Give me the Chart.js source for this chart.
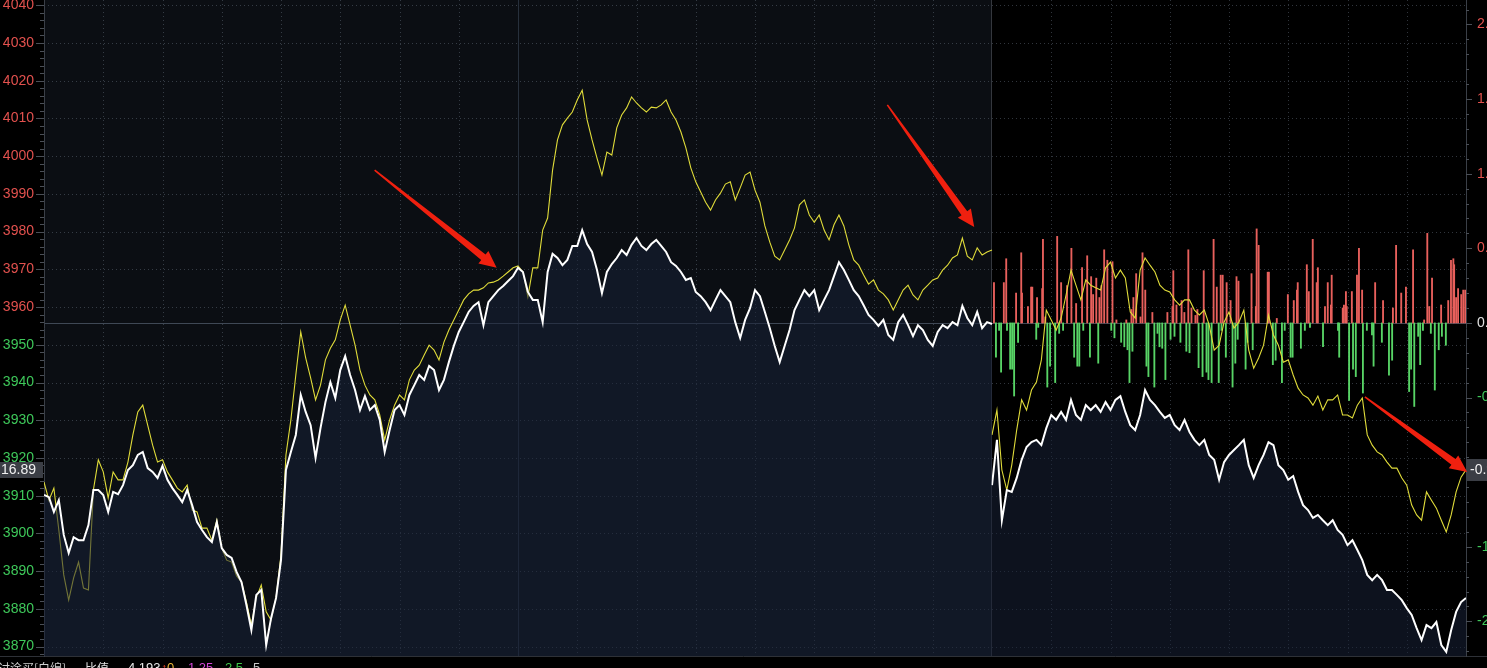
<!DOCTYPE html>
<html>
<head>
<meta charset="utf-8">
<script src="https://cdn.jsdelivr.net/npm/chart.js@4.4.1/dist/chart.umd.min.js"></script>
<style>
html, body { margin: 0; padding: 0; background: #000; overflow: hidden; }
#wrap { position: relative; width: 1487px; height: 668px; overflow: hidden; }
#chart { position: absolute; left: 0; top: 0; }
.leg { position: absolute; top: 661px; line-height: 13px; font-size: 13px; font-family: "Liberation Sans", "Noto Sans CJK SC", sans-serif; white-space: pre; }
</style>
</head>
<body>
<div id="wrap">
  <canvas id="chart" width="1487" height="668"></canvas>
  <span class="leg" style="left:-2px;color:#cfcfcf;font-family:'Noto Sans CJK SC';font-size:12px">讨涂买[白编]</span>
  <span class="leg" style="left:85px;color:#e0e0e0;font-family:'Noto Sans CJK SC';font-size:12px">比值</span>
  <span class="leg" style="left:128px;color:#e8e8e8">4.193</span>
  <span class="leg" style="left:161px;color:#ff4a2a">↑</span>
  <span class="leg" style="left:167px;color:#e9b53a">0</span>
  <span class="leg" style="left:188px;color:#d247d6">1.25</span>
  <span class="leg" style="left:225px;color:#3fc84a">2.5</span>
  <span class="leg" style="left:253px;color:#c8c8c8">5</span>
</div>
<script>
// previous close and axis range
var PREV_CLOSE = 3955.8;
var Y_MIN = 3867.5, Y_MAX = 4041.4;
var STEP = 1.25; // minutes between samples

var priceTicks = [3870, 3880, 3890, 3900, 3910, 3920, 3930, 3940, 3950, 3960, 3970, 3980, 3990, 4000, 4010, 4020, 4030, 4040];
var pctTicks = [-2, -1.5, -1, -0.5, 0, 0.5, 1, 1.5, 2];

// day 1 (full session, 240 min)
var prevWhite = [
3910.2, 3909.6, 3905.7, 3908.8, 3899.6, 3894.8, 3899.0, 3898.2, 3898.2, 3902.2,
3911.5, 3911.5, 3910.2, 3905.7, 3911.0, 3910.4, 3912.8, 3916.8, 3918.1, 3920.8,
3921.6, 3917.3, 3916.3, 3914.7, 3917.9, 3914.2, 3912.0, 3910.2, 3908.3, 3911.5,
3907.5, 3903.0, 3900.9, 3899.0, 3897.7, 3903.0, 3896.1, 3894.3, 3893.5, 3889.8,
3887.1, 3881.0, 3874.4, 3883.7, 3885.0, 3870.4, 3877.6, 3882.9, 3892.9, 3916.8,
3921.6, 3926.1, 3936.7, 3932.2, 3928.7, 3920.0, 3927.9, 3934.8, 3940.1, 3935.9,
3943.3, 3947.0, 3942.0, 3938.0, 3932.7, 3936.4, 3932.7, 3934.0, 3930.1, 3921.6,
3927.4, 3932.7, 3934.0, 3931.4, 3936.7, 3939.3, 3942.0, 3940.7, 3944.4, 3943.3,
3938.0, 3940.7, 3945.4, 3949.7, 3953.4, 3956.0, 3958.7, 3960.3, 3961.3, 3955.2,
3961.3, 3962.9, 3964.5, 3965.6, 3966.9, 3968.2, 3970.4, 3969.3, 3964.0, 3961.9,
3961.9, 3956.0, 3969.3, 3974.1, 3973.0, 3971.1, 3972.5, 3976.2, 3976.2, 3980.4,
3976.7, 3974.6, 3969.8, 3963.7, 3969.3, 3971.4, 3973.0, 3975.1, 3973.8, 3976.5,
3978.3, 3976.2, 3975.1, 3976.7, 3977.8, 3976.2, 3974.6, 3971.9, 3970.9, 3969.3,
3967.2, 3967.7, 3964.0, 3962.9, 3961.3, 3959.2, 3961.9, 3964.5, 3962.9, 3961.3,
3956.0, 3951.8, 3956.6, 3959.7, 3964.5, 3962.9, 3958.7, 3954.4, 3949.7, 3945.4,
3949.7, 3953.9, 3959.2, 3961.9, 3964.5, 3962.9, 3964.5, 3959.2, 3961.9, 3964.5,
3968.2, 3971.9, 3969.8, 3967.2, 3964.5, 3962.9, 3960.5, 3957.9, 3956.6, 3955.0,
3956.6, 3952.6, 3951.3, 3956.0, 3957.9, 3955.2, 3952.3, 3955.2, 3953.9, 3951.3,
3949.7, 3953.4, 3955.2, 3954.4, 3956.0, 3955.2, 3960.3, 3957.1, 3955.2, 3958.7,
3954.4, 3956.0, 3955.5
];
var prevYellow = [
3913.6, 3908.8, 3912.0, 3900.9, 3889.0, 3882.3, 3888.2, 3892.4, 3885.5, 3885.0,
3911.5, 3919.5, 3916.3, 3909.4, 3916.3, 3914.2, 3914.2, 3918.9, 3926.1, 3932.2,
3934.0, 3928.7, 3923.4, 3918.9, 3919.5, 3916.3, 3914.2, 3912.0, 3911.0, 3912.8,
3906.2, 3905.7, 3901.4, 3901.4, 3898.2, 3903.5, 3896.1, 3892.9, 3892.4, 3888.7,
3887.1, 3881.8, 3875.7, 3882.9, 3886.3, 3879.2, 3877.0, 3882.9, 3894.3, 3920.8,
3930.1, 3942.0, 3953.4, 3946.5, 3941.2, 3935.4, 3939.3, 3946.0, 3949.1, 3951.3,
3956.6, 3960.5, 3955.2, 3949.9, 3943.3, 3939.3, 3936.7, 3935.4, 3931.4, 3924.8,
3930.1, 3934.0, 3936.7, 3935.4, 3940.7, 3943.3, 3944.6, 3947.3, 3949.9, 3948.6,
3946.0, 3950.7, 3953.9, 3956.6, 3959.2, 3961.9, 3963.5, 3964.5, 3964.5, 3965.1,
3966.4, 3966.6, 3967.2, 3968.2, 3969.3, 3970.4, 3970.9, 3969.3, 3962.7, 3970.4,
3970.4, 3980.4, 3983.6, 3996.3, 4004.3, 4008.3, 4010.1, 4011.7, 4014.9, 4017.5,
4009.6, 4004.3, 3999.5, 3995.0, 4001.1, 4000.3, 4007.5, 4010.9, 4012.8, 4015.7,
4014.1, 4012.8, 4011.7, 4013.0, 4012.8, 4013.6, 4014.9, 4011.7, 4009.6, 4006.4,
4002.2, 3996.9, 3993.2, 3990.5, 3987.8, 3985.7, 3988.4, 3990.2, 3992.6, 3993.2,
3988.4, 3991.6, 3995.0, 3995.8, 3991.0, 3987.8, 3981.5, 3977.2, 3973.5, 3972.5,
3975.1, 3977.8, 3981.0, 3987.1, 3988.4, 3984.4, 3982.5, 3984.4, 3980.4, 3977.8,
3981.8, 3984.4, 3981.5, 3976.5, 3972.5, 3971.1, 3968.5, 3966.1, 3967.2, 3964.5,
3963.5, 3961.9, 3959.2, 3961.9, 3964.5, 3965.8, 3963.2, 3961.9, 3964.5, 3965.8,
3967.2, 3967.7, 3969.8, 3971.1, 3973.0, 3973.8, 3978.3, 3973.5, 3972.5, 3975.7,
3973.8, 3974.6, 3975.1
];

// day 2 (morning, 120 min)
var todayWhite = [
3912.8, 3924.8, 3903.5, 3911.5, 3911.0, 3914.7, 3919.5, 3922.9, 3924.2, 3924.8,
3923.4, 3927.9, 3931.4, 3930.1, 3932.2, 3930.1, 3935.4, 3931.4, 3930.1, 3934.0,
3932.7, 3934.0, 3932.2, 3934.8, 3932.7, 3935.4, 3936.4, 3932.2, 3928.7, 3927.4,
3931.4, 3938.0, 3935.4, 3934.0, 3932.2, 3930.6, 3931.4, 3928.7, 3927.4, 3930.1,
3926.9, 3924.8, 3923.4, 3924.8, 3920.8, 3919.5, 3914.2, 3918.9, 3920.8, 3922.1,
3923.4, 3924.8, 3918.1, 3914.7, 3918.1, 3920.8, 3924.2, 3923.4, 3918.1, 3916.8,
3914.2, 3915.2, 3911.0, 3907.5, 3906.2, 3904.1, 3904.9, 3903.5, 3902.2, 3903.5,
3900.9, 3899.6, 3896.9, 3898.2, 3895.6, 3892.9, 3889.0, 3887.6, 3889.0, 3887.6,
3885.0, 3885.0, 3883.7, 3882.3, 3880.2, 3878.4, 3874.9, 3871.7, 3875.7, 3874.9,
3876.5, 3870.4, 3868.6, 3874.4, 3879.2, 3881.8, 3882.9
];
var todayYellow = [
3926.1, 3932.7, 3916.8, 3911.5, 3918.1, 3927.4, 3935.4, 3932.7, 3938.0, 3940.1,
3946.0, 3959.2, 3956.6, 3953.9, 3957.1, 3963.2, 3969.8, 3965.8, 3961.9, 3967.2,
3965.8, 3965.1, 3964.5, 3970.4, 3971.9, 3967.7, 3969.8, 3967.7, 3958.7, 3957.1,
3969.8, 3973.0, 3971.1, 3969.3, 3965.8, 3964.5, 3964.0, 3961.9, 3960.5, 3961.9,
3961.9, 3959.2, 3957.9, 3959.2, 3955.2, 3948.6, 3949.9, 3956.0, 3958.7, 3954.4,
3956.0, 3959.2, 3948.6, 3943.8, 3946.5, 3949.9, 3957.9, 3952.6, 3949.9, 3945.4,
3946.0, 3942.0, 3938.5, 3936.7, 3935.9, 3934.0, 3936.4, 3932.7, 3935.4, 3935.4,
3936.7, 3931.4, 3931.4, 3930.6, 3934.0, 3935.9, 3926.1, 3923.4, 3921.6, 3920.8,
3918.9, 3917.3, 3917.3, 3914.7, 3912.8, 3907.5, 3904.9, 3903.5, 3911.0, 3908.8,
3906.7, 3903.5, 3900.4, 3904.9, 3911.0, 3914.9, 3916.89
];

// red / green bars of day 2 (minute, percent)
var upBarTime = [240.5, 243.0, 243.6, 246.1, 247.4, 247.6, 249.1, 249.9, 250.2, 251.4, 252.7, 252.9, 253.5, 256.5, 257.5, 259.0, 260.1, 261.3, 262.8, 264.1,
  265.1, 265.6, 266.4, 267.2, 267.7, 268.4, 269.2, 270.5, 271.5, 274.0, 275.3, 275.8, 276.5, 277.6, 278.1, 278.8, 280.6, 284.4, 285.7, 285.9,
  286.7, 288.0, 288.7, 289.7, 290.5, 291.5, 292.0, 293.6, 296.1, 296.9, 297.9, 298.4, 299.4, 300.4, 301.9, 302.4, 305.7, 306.8, 307.0, 307.5,
  309.8, 310.1, 312.1, 314.9, 316.4, 317.2, 317.4, 319.7, 320.2, 321.2, 322.2, 322.5, 324.3, 325.0, 325.8, 326.0, 328.8, 329.1, 329.6, 329.8,
  331.1, 332.4, 332.9, 333.7, 337.0, 339.0, 341.5, 342.3, 343.6, 344.8, 346.6, 349.4, 350.2, 350.7, 351.4, 353.7, 355.5, 356.2, 356.8, 357.0,
  357.5, 358.0, 358.8, 359.3, 359.8];
var upBarPct = [0.27, 0.27, 0.43, 0.20, 0.47, 0.20, 0.11, 0.24, 0.24, 0.17, 0.23, 0.56, 0.04, 0.58, 0.27, 0.25, 0.50, 0.13, 0.37, 0.45,
  0.31, 0.19, 0.30, 0.17, 0.25, 0.49, 0.42, 0.41, 0.02, 0.02, 0.09, 0.17, 0.33, 0.04, 0.47, 0.22, 0.07, 0.07, 0.11, 0.35,
  0.12, 0.15, 0.07, 0.49, 0.10, 0.05, 0.09, 0.35, 0.56, 0.24, 0.32, 0.32, 0.27, 0.15, 0.31, 0.28, 0.33, 0.11, 0.63, 0.52,
  0.34, 0.34, 0.03, 0.19, 0.15, 0.22, 0.27, 0.39, 0.21, 0.56, 0.27, 0.37, 0.11, 0.27, 0.12, 0.32, 0.10, 0.12, 0.21, 0.11,
  0.21, 0.32, 0.50, 0.22, 0.27, 0.15, 0.10, 0.52, 0.20, 0.24, 0.49, 0.02, 0.60, 0.11, 0.30, 0.12, 0.15, 0.42, 0.43, 0.39,
  0.17, 0.23, 0.19, 0.22, 0.22];
var downBarTime = [241.0, 241.8, 242.3, 243.8, 244.6, 245.1, 245.6, 246.6, 251.2, 251.7, 254.0, 254.7, 256.0, 257.0, 258.0, 260.8, 261.6, 262.1, 263.1, 264.8,
  266.9, 270.2, 271.0, 272.7, 273.5, 274.3, 274.8, 275.55, 279.1, 279.6, 281.1, 281.9, 282.4, 283.1, 283.9, 285.2, 286.2, 287.7, 289.2, 290.0,
  292.3, 293.3, 294.3, 294.8, 295.6, 297.4, 298.1, 299.2, 300.9, 301.6, 302.2, 304.2, 304.7, 306.0, 311.1, 311.8, 313.4, 314.1, 315.6, 316.1,
  318.2, 319.2, 320.5, 323.8, 327.6, 327.9, 330.4, 331.4, 332.1, 333.9, 334.9, 336.2, 336.6, 338.7, 340.5, 341.3, 345.6, 346.1, 346.9, 347.9,
  348.4, 349.1, 351.1, 352.1, 353.1, 353.9, 354.9];
var downBarPct = [-0.23, -0.05, -0.33, -0.05, -0.31, -0.31, -0.49, -0.13, -0.11, -0.03, -0.43, -0.29, -0.40, -0.07, -0.05, -0.23, -0.29, -0.29, -0.05, -0.23,
  -0.27, -0.05, -0.10, -0.13, -0.16, -0.18, -0.40, -0.19, -0.29, -0.36, -0.43, -0.07, -0.16, -0.17, -0.38, -0.11, -0.09, -0.13, -0.19, -0.20,
  -0.30, -0.36, -0.33, -0.38, -0.40, -0.40, -0.05, -0.23, -0.43, -0.27, -0.11, -0.31, -0.13, -0.18, -0.28, -0.25, -0.40, -0.05, -0.23, -0.23,
  -0.17, -0.05, -0.03, -0.16, -0.05, -0.23, -0.52, -0.31, -0.36, -0.47, -0.05, -0.08, -0.29, -0.13, -0.35, -0.25, -0.46, -0.31, -0.56, -0.09,
  -0.28, -0.05, -0.07, -0.45, -0.18, -0.09, -0.15];

// red arrows drawn on the screenshot: [fromMinute, fromPrice, toMinute, toPrice]
var arrows = [
  [83.7, 3996.3, 114.6, 3970.4],
  [213.5, 4013.6, 235.5, 3981.2],
  [334.4, 3936.2, 360.3, 3916.3]
];

var RED = '#e2514e', GREEN = '#3ec85a';
var P_MIN = (Y_MIN / PREV_CLOSE - 1) * 100;
var P_MAX = (Y_MAX / PREV_CLOSE - 1) * 100;

var toPoints = function(vals, start) {
    return vals.map(function(v, i) { return {x: start + i * STEP, y: v}; });
};
var toBars = function(times, vals) {
    return times.map(function(t, i) { return {x: t, y: vals[i]}; });
};

var frame = {
    id: 'frame',
    beforeDraw: function(chart) {
        var ctx = chart.ctx, a = chart.chartArea, x = chart.scales.x, y = chart.scales.y;
        ctx.save();
        ctx.fillStyle = '#000';
        ctx.fillRect(0, 0, chart.width, chart.height);
        var xs = x.getPixelForValue(240);
        ctx.fillStyle = '#0b0e13';
        ctx.fillRect(a.left, a.top, xs - a.left, a.bottom - a.top);

        ctx.lineWidth = 1;
        ctx.strokeStyle = 'rgba(95,105,120,0.5)';
        ctx.setLineDash([1, 3]);
        priceTicks.forEach(function(v) {
            var py = Math.round(y.getPixelForValue(v)) + 0.5;
            ctx.beginPath(); ctx.moveTo(a.left, py); ctx.lineTo(a.right, py); ctx.stroke();
        });
        for (var m = 15; m < 360; m += 15) {
            if (m === 120 || m === 240) continue;
            var px = Math.round(x.getPixelForValue(m)) + 0.5;
            ctx.beginPath(); ctx.moveTo(px, a.top); ctx.lineTo(px, a.bottom); ctx.stroke();
        }
        ctx.setLineDash([]);
        ctx.strokeStyle = '#27303c';
        var p120 = Math.round(x.getPixelForValue(120)) + 0.5;
        ctx.beginPath(); ctx.moveTo(p120, a.top); ctx.lineTo(p120, a.bottom); ctx.stroke();
        ctx.strokeStyle = '#34373d';
        ctx.beginPath(); ctx.moveTo(Math.round(xs) - 0.5, a.top); ctx.lineTo(Math.round(xs) - 0.5, a.bottom); ctx.stroke();
        ctx.strokeStyle = '#3f4855';
        var pc = Math.round(y.getPixelForValue(PREV_CLOSE)) + 0.5;
        ctx.beginPath(); ctx.moveTo(a.left, pc); ctx.lineTo(a.right, pc); ctx.stroke();
        ctx.strokeStyle = '#2e3137';
        ctx.beginPath(); ctx.moveTo(0, a.bottom + 0.5); ctx.lineTo(chart.width, a.bottom + 0.5); ctx.stroke();
        ctx.restore();
    },
    afterDraw: function(chart) {
        var ctx = chart.ctx, a = chart.chartArea, x = chart.scales.x, y = chart.scales.y, y1 = chart.scales.y1;
        ctx.save();
        // small ticks on both axes
        ctx.strokeStyle = '#4a4f57';
        ctx.lineWidth = 1;
        for (var v = 3868; v <= 4040; v += 2) {
            var py = Math.round(y.getPixelForValue(v)) + 0.5;
            var len = (v % 10 === 0) ? 8 : 4;
            ctx.beginPath(); ctx.moveTo(a.left - len, py); ctx.lineTo(a.left, py); ctx.stroke();
        }
        for (var k = -22; k <= 21; k++) {
            var qy = Math.round(y1.getPixelForValue(k / 10)) + 0.5;
            var ln = (k % 5 === 0) ? 6 : 3;
            ctx.beginPath(); ctx.moveTo(a.right, qy); ctx.lineTo(a.right + ln, qy); ctx.stroke();
        }

        // arrows
        ctx.fillStyle = '#f0200f';
        arrows.forEach(function(r) {
            var x0 = x.getPixelForValue(r[0]), y0 = y.getPixelForValue(r[1]);
            var x1 = x.getPixelForValue(r[2]), y1p = y.getPixelForValue(r[3]);
            var dx = x1 - x0, dy = y1p - y0, L = Math.hypot(dx, dy);
            var ux = dx / L, uy = dy / L, nx = -uy, ny = ux;
            var head = 17, hw = 8, neck = 3.5, tail = 0.8;
            var bx = x1 - ux * head, by = y1p - uy * head;
            ctx.beginPath();
            ctx.moveTo(x0 + nx * tail, y0 + ny * tail);
            ctx.lineTo(bx + nx * neck, by + ny * neck);
            ctx.lineTo(bx + nx * hw, by + ny * hw);
            ctx.lineTo(x1, y1p);
            ctx.lineTo(bx - nx * hw, by - ny * hw);
            ctx.lineTo(bx - nx * neck, by - ny * neck);
            ctx.lineTo(x0 - nx * tail, y0 - ny * tail);
            ctx.closePath();
            ctx.fill();
        });

        // current value boxes
        var last = todayYellow[todayYellow.length - 1];
        var ly = Math.round(y.getPixelForValue(last));
        ctx.fillStyle = '#3b3e45';
        ctx.fillRect(0, ly - 8, a.left - 1, 16);
        ctx.fillRect(a.right + 1, ly - 11, chart.width - a.right, 22);
        ctx.font = '14px "Liberation Sans", Arial, sans-serif';
        ctx.fillStyle = '#f0f0f0';
        ctx.textBaseline = 'middle';
        ctx.save();
        ctx.beginPath(); ctx.rect(1, ly - 8, a.left - 2, 16); ctx.clip();
        ctx.textAlign = 'right';
        ctx.fillText(last.toFixed(2), 36, ly);
        ctx.restore();
        ctx.textAlign = 'left';
        ctx.fillText(((last / PREV_CLOSE - 1) * 100).toFixed(2) + '%', a.right + 4, ly);
        ctx.restore();
    }
};

var tickFont = {family: '"Liberation Sans", Arial, sans-serif', size: 14};

new Chart(document.getElementById('chart'), {
    type: 'line',
    data: {
        datasets: [
            {type: 'line', data: toPoints(prevWhite, 0), borderColor: '#ffffff', borderWidth: 2,
             fill: 'start', backgroundColor: 'rgba(24,32,54,0.55)', pointRadius: 0, tension: 0, order: 0, yAxisID: 'y'},
            {type: 'line', data: toPoints(todayWhite, 240), borderColor: '#ffffff', borderWidth: 2,
             fill: 'start', backgroundColor: 'rgba(24,32,54,0.55)', pointRadius: 0, tension: 0, order: 0, yAxisID: 'y'},
            {type: 'line', data: toPoints(prevYellow, 0), borderColor: '#e0dc3a', borderWidth: 1.1,
             fill: false, pointRadius: 0, tension: 0, order: 1, yAxisID: 'y'},
            {type: 'line', data: toPoints(todayYellow, 240), borderColor: '#e0dc3a', borderWidth: 1.1,
             fill: false, pointRadius: 0, tension: 0, order: 1, yAxisID: 'y'},
            {type: 'bar', data: toBars(upBarTime, upBarPct), backgroundColor: '#e8605c', barThickness: 1.2,
             grouped: false, order: 2, yAxisID: 'y1'},
            {type: 'bar', data: toBars(downBarTime, downBarPct), backgroundColor: '#58d466', barThickness: 1.2,
             grouped: false, order: 2, yAxisID: 'y1'}
        ]
    },
    options: {
        responsive: false,
        animation: false,
        events: [],
        layout: {padding: {left: 0, right: 0, top: 0, bottom: 12}},
        plugins: {legend: {display: false}, tooltip: {enabled: false}},
        scales: {
            x: {type: 'linear', min: 0, max: 360, offset: false, display: false, grid: {offset: false}},
            y: {
                position: 'left', min: Y_MIN, max: Y_MAX,
                grid: {display: false, drawTicks: false},
                border: {display: true, color: '#3a3f47'},
                ticks: {
                    padding: 10, font: tickFont,
                    callback: function(v) { return String(v); },
                    color: function(c) { return c.tick.value > PREV_CLOSE ? RED : GREEN; }
                },
                afterBuildTicks: function(s) { s.ticks = priceTicks.map(function(v) { return {value: v}; }); },
                afterFit: function(s) { s.width = 44; s.paddingTop = 0; s.paddingBottom = 0; }
            },
            y1: {
                position: 'right', min: P_MIN, max: P_MAX,
                grid: {display: false, drawTicks: false},
                border: {display: true, color: '#3a3f47'},
                ticks: {
                    padding: 11, font: tickFont,
                    callback: function(v) { return v.toFixed(2) + '%'; },
                    color: function(c) { return c.tick.value > 0 ? RED : (c.tick.value < 0 ? GREEN : '#e0e0e0'); }
                },
                afterBuildTicks: function(s) { s.ticks = pctTicks.map(function(v) { return {value: v}; }); },
                afterFit: function(s) { s.width = 21; s.paddingTop = 0; s.paddingBottom = 0; }
            }
        }
    },
    plugins: [frame]
});
</script>
</body>
</html>
